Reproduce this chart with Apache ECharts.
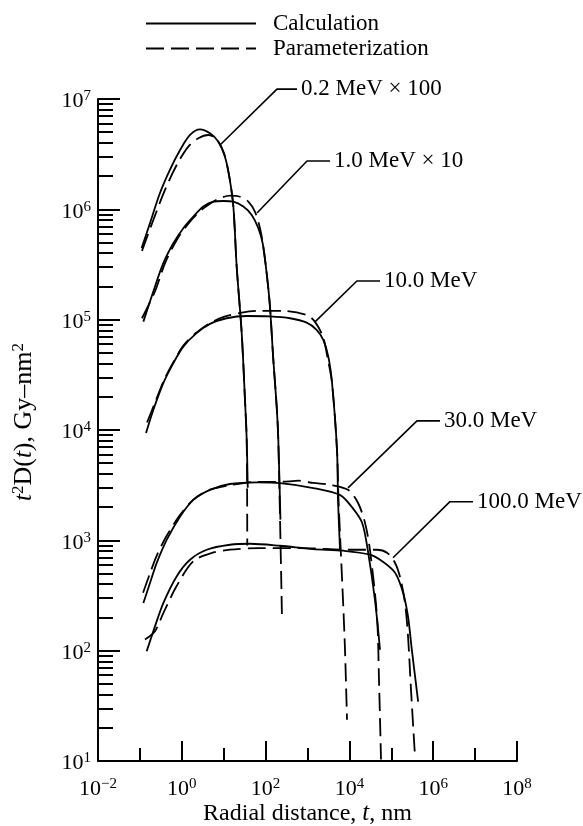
<!DOCTYPE html>
<html>
<head>
    <meta charset="utf-8">
    <title>Radial dose distribution</title>
    <style>
        html, body, #chart {
            margin: 0;
            padding: 0;
            width: 583px;
            height: 826px;
            background: #fff;
        }
    </style>
</head>
<body>
    <div id="chart"></div>
    <script src="https://cdn.jsdelivr.net/npm/echarts@6/dist/echarts.min.js"></script>
    <script type="text/javascript">
        var FONT = '"Liberation Serif", "DejaVu Serif", "Times New Roman", serif';

        // axis ticks (radial distance t in nm, dose t^2 D(t) in Gy-nm^2)
        var xMajorTicks = [1e-2, 1, 1e2, 1e4, 1e6, 1e8];
        var xMinorTicks = [1e-1, 1e1, 1e3, 1e5, 1e7];
        var yMajorTicks = [1e1, 1e2, 1e3, 1e4, 1e5, 1e6, 1e7];
        var yMinorTicks = [];
        for (var e = 1; e < 7; e++) {
            for (var m = 2; m <= 9; m++) yMinorTicks.push(m * Math.pow(10, e));
        }

        // 0.2 MeV x 100
        var calc02 = [[0.11, 4.45e5], [0.174, 7.5e5], [0.30, 1.4e6], [0.52, 2.28e6], [0.91, 3.45e6],
            [1.57, 4.72e6], [2.72, 5.31e6], [4.71, 4.89e6], [7.45, 4.1e6], [10.7, 3.0e6], [13.6, 1.98e6],
            [17.0, 1.06e6], [20.4, 3.03e5], [26.9, 7.55e4], [32.2, 1.88e4], [35.4, 8.15e3], [37.5, 3.0e3]];
        var param02 = [[0.112, 4.2e5], [0.209, 8.0e5], [0.397, 1.5e6], [0.755, 2.52e6], [1.43, 3.7e6],
            [2.48, 4.41e6], [4.3, 4.72e6], [6.79, 4.31e6], [10.2, 3.22e6], [13.6, 1.98e6], [17.0, 1.06e6],
            [20.4, 3.03e5], [26.9, 7.55e4], [32.2, 1.88e4], [35.4, 8.15e3], [36.5, 900]];

        // 1.0 MeV x 10
        var calc10 = [[0.121, 9.6e4], [0.209, 1.8e5], [0.362, 3.25e5], [0.628, 4.93e5], [1.087, 6.75e5],
            [1.884, 8.6e5], [3.27, 1.06e6], [5.65, 1.175e6], [9.79, 1.19e6], [17.0, 1.175e6], [29.4, 1.06e6],
            [46.6, 8.9e5], [67.0, 6.75e5], [85.1, 4.93e5], [106, 2.64e5], [127, 1.32e5], [153, 4.3e4],
            [184, 1.63e4], [201, 8.15e3], [226, 1.54e3]];
        var param10 = [[0.112, 1.03e5], [0.229, 1.8e5], [0.398, 3.25e5], [0.759, 5.28e5], [1.57, 7.74e5],
            [3.27, 1.02e6], [6.76, 1.22e6], [14.1, 1.33e6], [24.5, 1.3e6], [38.7, 1.175e6], [55.8, 9.5e5],
            [73.5, 6.75e5], [88.1, 4.6e5], [106, 2.64e5], [127, 1.32e5], [153, 4.3e4], [184, 1.63e4],
            [201, 8.15e3], [245, 215]];

        // 10.0 MeV
        var calc100 = [[0.14, 9.4e3], [0.209, 1.52e4], [0.362, 2.66e4], [0.628, 4.04e4], [1.087, 5.7e4],
            [2.25, 7.55e4], [4.71, 9.16e4], [11.7, 1.03e5], [35.4, 1.08e5], [127, 1.07e5], [382, 1.03e5],
            [955, 9.4e4], [1650, 8.1e4], [2380, 6.56e4], [3140, 4.63e4], [3850, 2.68e4], [5060, 6.6e3],
            [5350, 2.33e3], [5970, 822]];
        var param100 = [[0.148, 1.17e4], [0.22, 1.7e4], [0.38, 2.85e4], [0.65, 4.2e4], [1.1, 5.85e4],
            [2.3, 7.7e4], [4.7, 9.3e4], [10, 1.06e5], [24.5, 1.15e5], [62.4, 1.2e5], [260, 1.2e5],
            [973, 1.1e5], [1510, 9.55e4], [2340, 6.98e4], [3080, 4.33e4], [3850, 2.68e4], [5060, 6.6e3],
            [5500, 2.33e3], [7030, 290], [7850, 102], [8770, 23.7]];

        // 30.0 MeV
        var calc300 = [[0.121, 270], [0.174, 410], [0.251, 622], [0.436, 1010], [0.906, 1640],
            [1.884, 2330], [4.71, 2870], [14.1, 3240], [61.4, 3350], [221, 3300], [1380, 2980],
            [6030, 2570], [11500, 2000], [20000, 1450], [27500, 813], [40700, 288], [53700, 102]];
        var param300 = [[0.119, 335], [0.174, 501], [0.251, 724], [0.436, 1100], [0.912, 1700],
            [1.884, 2340], [4.71, 2880], [14.1, 3160], [61.7, 3390], [221, 3390], [631, 3470],
            [1380, 3310], [3440, 3190], [9270, 2870], [16000, 2190], [23600, 1440], [30900, 822],
            [45600, 203], [50800, 54.6], [56800, 10.3]];

        // 100.0 MeV
        var calc1000 = [[0.145, 98.6], [0.229, 166], [0.362, 270], [0.752, 471], [1.57, 667],
            [3.93, 822], [14.1, 912], [42.5, 931], [221, 893], [1370, 834], [7160, 805], [30900, 741],
            [63100, 640], [123000, 508], [191000, 335], [251000, 203], [309000, 102], [437000, 34.5]];
        var param1000 = [[0.132, 126], [0.229, 150], [0.362, 219], [0.752, 385], [1.87, 646],
            [5.08, 767], [14.1, 822], [68.8, 851], [620, 851], [10300, 822], [45600, 822], [78900, 773],
            [122000, 627], [161000, 468], [212000, 272], [251000, 134], [295000, 44.4], [368000, 11.0]];

        // curve labels and their leader lines
        var labelNames = ['0.2 MeV \u00d7 100', '1.0 MeV \u00d7 10', '10.0 MeV', '30.0 MeV', '100.0 MeV'];
        var leaders = [
            [[8.17, 3.83e6], [187, 1.23e7], [561, 1.23e7]],
            [[62.4, 9.27e5], [973, 2.74e6], [3440, 2.74e6]],
            [[1510, 9.55e4], [15100, 2.24e5], [53700, 2.24e5]],
            [[9270, 2990], [410000, 12100], [1.45e6, 12100]],
            [[110000, 695], [2.51e6, 2240], [8.91e6, 2240]]
        ];

        var calcCurves = [calc02, calc10, calc100, calc300, calc1000];
        var paramCurves = [param02, param10, param100, param300, param1000];

        function powLabel(v) {
            var p = Math.round(Math.log10(v));
            return '{b|10}{s|' + (p < 0 ? '\u2212' + (-p) : p) + '}';
        }
        var labelRich = {
            b: { fontFamily: FONT, fontSize: 22, color: '#000' },
            s: { fontFamily: FONT, fontSize: 15, color: '#000', verticalAlign: 'top', padding: [0, 0, 10, 0] }
        };
        var nameRich = {
            i: { fontFamily: FONT, fontSize: 25, fontStyle: 'italic', color: '#000' },
            s: { fontFamily: FONT, fontSize: 17, color: '#000', verticalAlign: 'top', padding: [0, 0, 11, 0] }
        };

        var series = [];
        calcCurves.forEach(function (d) {
            series.push({
                name: 'Calculation', type: 'line', data: d, symbol: 'none', smooth: 0.3,
                clip: false, silent: true,
                itemStyle: { color: '#000' },
                lineStyle: { color: '#000', width: 1.8, type: 'solid' }
            });
        });
        paramCurves.forEach(function (d) {
            series.push({
                name: 'Parameterization', type: 'line', data: d, symbol: 'none', smooth: 0.3,
                clip: false, silent: true,
                itemStyle: { color: '#000' },
                lineStyle: { color: '#000', width: 1.8, type: [18, 7] }
            });
        });
        leaders.forEach(function (d, i) {
            series.push({
                name: labelNames[i], type: 'line', data: d, symbol: 'none', clip: false, silent: true,
                lineStyle: { color: '#000', width: 1.6 },
                endLabel: {
                    show: true, formatter: labelNames[i], distance: 4,
                    fontFamily: FONT, fontSize: 23, color: '#000'
                }
            });
        });

        var axisLineStyle = { color: '#000', width: 2 };

        var chart = echarts.init(document.getElementById('chart'), null, { renderer: 'canvas' });
        chart.setOption({
            animation: false,
            backgroundColor: '#fff',
            grid: { left: 98, right: 66, top: 99, bottom: 65, outerBoundsMode: 'none', containLabel: false },
            legend: {
                orient: 'vertical', left: 145, top: 12, padding: 0,
                itemWidth: 110, itemHeight: 12, itemGap: 2,
                data: ['Calculation', 'Parameterization'],
                itemStyle: { color: 'rgba(0,0,0,0)', borderWidth: 0, opacity: 0 },
                textStyle: { fontFamily: FONT, fontSize: 23, color: '#000', lineHeight: 22, padding: [0, 0, 0, 12] }
            },
            xAxis: [{
                type: 'log', logBase: 10, min: 1e-2, max: 1e8, position: 'bottom',
                axisLine: { lineStyle: axisLineStyle },
                axisTick: { inside: true, length: 20, lineStyle: axisLineStyle, customValues: xMajorTicks },
                axisLabel: { customValues: xMajorTicks, formatter: powLabel, rich: labelRich, margin: 16 },
                splitLine: { show: false },
                name: 'Radial distance, {i|t}, nm', nameLocation: 'middle', nameGap: 40,
                nameMoveOverlap: false,
                nameTextStyle: { fontFamily: FONT, fontSize: 24, color: '#000', rich: nameRich }
            }, {
                type: 'log', logBase: 10, min: 1e-2, max: 1e8, position: 'bottom',
                axisLine: { show: false },
                axisTick: { inside: true, length: 13, lineStyle: axisLineStyle, customValues: xMinorTicks },
                axisLabel: { show: false },
                splitLine: { show: false }
            }],
            yAxis: [{
                type: 'log', logBase: 10, min: 1e1, max: 1e7, position: 'left',
                axisLine: { show: true, lineStyle: axisLineStyle },
                axisTick: { show: true, inside: true, length: 22, lineStyle: axisLineStyle, customValues: yMajorTicks },
                axisLabel: { customValues: yMajorTicks, formatter: powLabel, rich: labelRich, margin: 7, padding: [5, 0, 0, 0] },
                splitLine: { show: false },
                name: '{i|t}{s|2}D({i|t}), Gy\u2013nm{s|2}', nameLocation: 'middle', nameGap: 60, nameRotate: 90,
                nameMoveOverlap: false,
                nameTextStyle: { fontFamily: FONT, fontSize: 26, color: '#000', rich: nameRich, padding: [0, 0, 0, 16] }
            }, {
                type: 'log', logBase: 10, min: 1e1, max: 1e7, position: 'left',
                axisLine: { show: false },
                axisTick: { show: true, inside: true, length: 15, lineStyle: axisLineStyle, customValues: yMinorTicks },
                axisLabel: { show: false },
                splitLine: { show: false }
            }],
            series: series
        });
    </script>
</body>
</html>
